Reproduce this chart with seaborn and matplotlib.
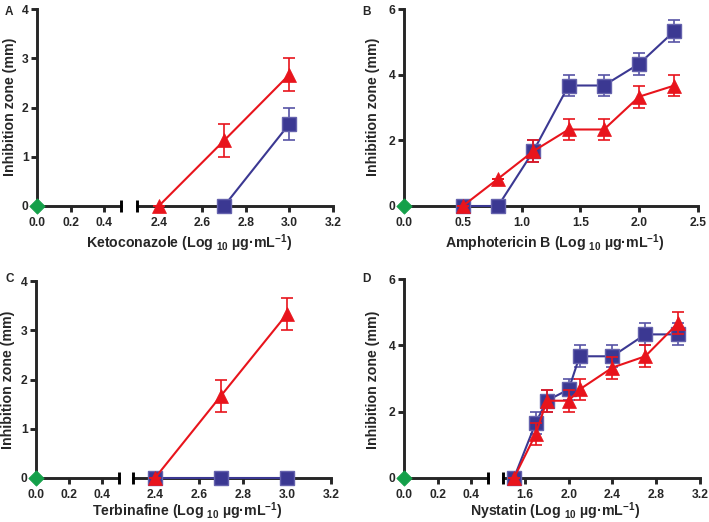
import matplotlib
matplotlib.use("Agg")
import matplotlib.pyplot as plt
import seaborn as sns
import numpy as np

# ---------------- data ----------------
ctrl_x = [0.0]
ctrl_y = [0.0]

A_tri_x = [2.4, 2.7, 3.0]
A_tri_y = [0.0, 1.33, 2.67]
A_tri_e = [0.0, 0.33, 0.33]
A_sq_x = [2.7, 3.0]
A_sq_y = [0.0, 1.67]
A_sq_e = [0.0, 0.33]

B_x = [0.5, 0.8, 1.1, 1.4, 1.7, 2.0, 2.3]
B_sq_y = [0.0, 0.0, 1.67, 3.67, 3.67, 4.33, 5.33]
B_sq_e = [0.0, 0.0, 0.33, 0.33, 0.33, 0.33, 0.33]
B_tri_y = [0.0, 0.83, 1.67, 2.33, 2.33, 3.33, 3.67]
B_tri_e = [0.0, 0.0, 0.33, 0.33, 0.33, 0.33, 0.33]

C_x = [2.4, 2.7, 3.0]
C_tri_y = [0.0, 1.67, 3.33]
C_tri_e = [0.0, 0.33, 0.33]
C_sq_y = [0.0, 0.0, 0.0]
C_sq_e = [0.0, 0.0, 0.0]

D_x = [1.5, 1.7, 1.8, 2.0, 2.1, 2.4, 2.7, 3.0]
D_sq_y = [0.0, 1.67, 2.33, 2.67, 3.67, 3.67, 4.33, 4.33]
D_sq_e = [0.0, 0.33, 0.33, 0.33, 0.33, 0.33, 0.33, 0.33]
D_tri_y = [0.0, 1.33, 2.33, 2.33, 2.67, 3.33, 3.67, 4.67]
D_tri_e = [0.0, 0.33, 0.33, 0.33, 0.33, 0.33, 0.33, 0.33]

xlabels = ["Ketoconazole", "Amphotericin B", "Terbinafine", "Nystatin"]
panel_letters = ["A", "B", "C", "D"]

# ---------------- style ----------------
sns.set_style("ticks")
plt.rcParams["font.family"] = ["Liberation Sans", "DejaVu Sans"]
plt.rcParams["font.weight"] = "bold"
plt.rcParams["mathtext.fontset"] = "custom"
plt.rcParams["mathtext.bf"] = "Liberation Sans:bold"
plt.rcParams["mathtext.rm"] = "Liberation Sans:bold"
plt.rcParams["mathtext.default"] = "bf"

RED = "#e8141c"
BLUE = "#3b3892"
BLUE_EDGE = "#6562ad"
BLUE_ERR = "#5754a6"
GREEN = "#14a04a"
SPW = 2.1
FS_TICK = 8.7
FS_LAB = 10.2

W, H = 709, 522
fig = plt.figure(figsize=(W / 100, H / 100), dpi=100)


def ax_at(x0, x1, ytop, ybot):
    return fig.add_axes([x0 / W, 1 - ybot / H, (x1 - x0) / W, (ybot - ytop) / H])


def style_ax(ax, show_y=True):
    for s in ["top", "right"]:
        ax.spines[s].set_visible(False)
    ax.spines["bottom"].set_linewidth(SPW)
    ax.spines["left"].set_linewidth(SPW)
    if not show_y:
        ax.spines["left"].set_visible(False)
        ax.tick_params(axis="y", left=False, labelleft=False)
    ax.tick_params(axis="both", direction="out", length=4, width=SPW,
                   labelsize=FS_TICK, pad=2)
    ax.tick_params(axis="x", pad=4)
    for lab in ax.get_xticklabels() + ax.get_yticklabels():
        lab.set_fontweight("bold")
    ax.set_facecolor("none")


def series(ax, xs, ys, es, kind):
    if kind == "sq":
        ax.errorbar(xs, ys, yerr=es, fmt="none", ecolor=BLUE_ERR, elinewidth=1.2,
                    capsize=4.5, capthick=1.2, zorder=2, clip_on=False)
        sns.lineplot(x=xs, y=ys, ax=ax, color=BLUE, marker="s", markersize=9.5,
                     markeredgecolor=BLUE_EDGE, markeredgewidth=1.0, linewidth=1.5,
                     zorder=3, clip_on=False, errorbar=None)
    else:
        ax.errorbar(xs, ys, yerr=es, fmt="none", ecolor=RED, elinewidth=1.2,
                    capsize=4.5, capthick=1.2, zorder=4, clip_on=False)
        sns.lineplot(x=xs, y=ys, ax=ax, color=RED, marker="^", markersize=10.5,
                     markeredgecolor=RED, markeredgewidth=0.5, linewidth=1.5,
                     zorder=5, clip_on=False, errorbar=None)


def control(ax):
    sns.scatterplot(x=ctrl_x, y=ctrl_y, ax=ax, color=GREEN, marker="D", s=60,
                    edgecolor=GREEN, zorder=6, clip_on=False, legend=False)


def cap(ax, x):
    ax.plot([x], [0], marker="|", markersize=9, markeredgewidth=SPW, color="k",
            clip_on=False, zorder=7)


def xlabel_text(name, cx, cy):
    fig.text(cx / W, 1 - cy / H,
             name + r" (Log $_{10}$ µg·mL$^{-1}$)",
             ha="center", va="center", fontsize=FS_LAB, fontweight="bold")


def ylabel_text(cx, cy):
    fig.text(cx / W, 1 - cy / H, "Inhibition zone (mm)", rotation=90,
             ha="center", va="center", fontsize=FS_LAB, fontweight="bold")


def broken_panel(lx0, lx1, rx0, rx1, ytop, ybot, rlo, rticks, ymax, yticks):
    axl = ax_at(lx0, lx1, ytop, ybot)
    axr = ax_at(rx0, rx1, ytop, ybot)
    axl.set_xlim(0, 0.5)
    axl.set_ylim(0, ymax)
    axl.set_xticks([0.0, 0.2, 0.4])
    axl.set_xticklabels(["0.0", "0.2", "0.4"])
    axl.set_yticks(yticks)
    axl.set_yticklabels([str(t) for t in yticks])
    axr.set_xlim(rlo, 3.2)
    axr.set_ylim(0, ymax)
    axr.set_xticks(rticks)
    axr.set_xticklabels([f"{t:.1f}" for t in rticks])
    style_ax(axl, True)
    style_ax(axr, False)
    cap(axl, 0.5)
    cap(axr, rlo)
    return axl, axr


# ---- Panel A ----
axl, axr = broken_panel(37, 121, 137, 333, 9, 206, 2.3,
                        [2.4, 2.6, 2.8, 3.0, 3.2], 4, [0, 1, 2, 3, 4])
control(axl)
series(axr, A_sq_x, A_sq_y, A_sq_e, "sq")
series(axr, A_tri_x, A_tri_y, A_tri_e, "tri")
axl.set_xlabel(""); axl.set_ylabel(""); axr.set_xlabel(""); axr.set_ylabel("")
ylabel_text(10, 107)
xlabel_text(xlabels[0], 189, 243)

# ---- Panel B ----
axB = ax_at(404, 698, 9, 206)
series(axB, B_x, B_sq_y, B_sq_e, "sq")
series(axB, B_x, B_tri_y, B_tri_e, "tri")
control(axB)
axB.set_xlim(0, 2.5)
axB.set_ylim(0, 6)
axB.set_xticks([0.0, 0.5, 1.0, 1.5, 2.0, 2.5])
axB.set_xticklabels(["0.0", "0.5", "1.0", "1.5", "2.0", "2.5"])
axB.set_yticks([0, 2, 4, 6])
axB.set_yticklabels(["0", "2", "4", "6"])
axB.set_xlabel(""); axB.set_ylabel("")
style_ax(axB, True)
ylabel_text(373, 107)
xlabel_text(xlabels[1], 555, 243)

# ---- Panel C ----
axl, axr = broken_panel(36, 119, 133, 331, 281, 478, 2.3,
                        [2.4, 2.6, 2.8, 3.0, 3.2], 4, [0, 1, 2, 3, 4])
control(axl)
series(axr, C_x, C_sq_y, C_sq_e, "sq")
series(axr, C_x, C_tri_y, C_tri_e, "tri")
axl.set_xlabel(""); axl.set_ylabel(""); axr.set_xlabel(""); axr.set_ylabel("")
ylabel_text(8, 380)
xlabel_text(xlabels[2], 187, 511)

# ---- Panel D ----
axl, axr = broken_panel(404, 488, 503, 700, 279, 478, 1.4,
                        [1.6, 2.0, 2.4, 2.8, 3.2], 6, [0, 2, 4, 6])
control(axl)
series(axr, D_x, D_sq_y, D_sq_e, "sq")
series(axr, D_x, D_tri_y, D_tri_e, "tri")
axl.set_xlabel(""); axl.set_ylabel(""); axr.set_xlabel(""); axr.set_ylabel("")
ylabel_text(373, 380)
xlabel_text(xlabels[3], 555, 511)

# panel letters
for letter, (px, py) in zip(panel_letters, [(5, 12), (362, 12), (5, 279), (362, 279)]):
    fig.text(px / W, 1 - py / H, letter, ha="left", va="center",
             fontsize=8.5, fontweight="bold")

fig.savefig("out.png", dpi=100)
